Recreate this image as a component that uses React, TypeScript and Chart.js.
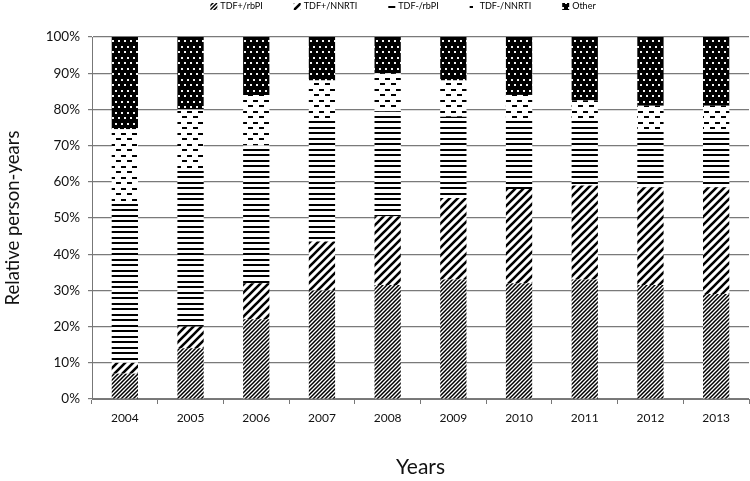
import { useEffect, useRef } from 'react';
import { Chart, registerables } from 'chart.js';

Chart.register(...registerables);

const years = ['2004', '2005', '2006', '2007', '2008', '2009', '2010', '2011', '2012', '2013'];
const seriesNames = ['TDF+/rbPI', 'TDF+/NNRTI', 'TDF-/rbPI', 'TDF-/NNRTI', 'Other'];
const tdfPlusRbpi = [7, 14, 22, 30, 31.5, 33, 32, 33, 31.5, 29];
const tdfPlusNnrti = [3, 6, 10, 13.5, 19, 22.5, 26, 26, 27, 29.5];
const tdfMinusRbpi = [44.5, 43.5, 38, 34, 29, 22.5, 19, 18, 16, 16];
const tdfMinusNnrti = [20, 16.5, 14, 10.5, 10.5, 10, 7, 5.5, 6.5, 6.5];
const otherValues = [25.5, 20, 16, 12, 10, 12, 16, 17.5, 19, 19];
const yMax = 100;
const yStep = 10;

const FONT = 'Lato, "Noto Sans", sans-serif';

function tile(w: number, h: number, draw: (c: CanvasRenderingContext2D) => void): CanvasPattern {
  const cv = document.createElement('canvas');
  cv.width = w;
  cv.height = h;
  const c = cv.getContext('2d')!;
  draw(c);
  return c.createPattern(cv, 'repeat')!;
}

function diag(size: number, lw: number) {
  return tile(size, size, (c) => {
    c.fillStyle = '#fff';
    c.fillRect(0, 0, size, size);
    c.strokeStyle = '#000';
    c.lineWidth = lw;
    c.beginPath();
    c.moveTo(-1, size + 1);
    c.lineTo(size + 1, -1);
    c.moveTo(-size / 2 - 1, size / 2 + 1);
    c.lineTo(size / 2 + 1, -size / 2 - 1);
    c.moveTo(size / 2 - 1, size * 1.5 + 1);
    c.lineTo(size * 1.5 + 1, size / 2 - 1);
    c.stroke();
  });
}

function makePatterns() {
  const dense = diag(4, 1.5);
  const wide = diag(8, 2.6);
  const horiz = tile(4, 11, (c) => {
    c.fillStyle = '#fff';
    c.fillRect(0, 0, 4, 11);
    c.fillStyle = '#000';
    c.fillRect(0, 0, 4, 2);
    c.fillRect(0, 6, 4, 2);
  });
  const dashes = tile(11, 11, (c) => {
    c.fillStyle = '#fff';
    c.fillRect(0, 0, 11, 11);
    c.fillStyle = '#000';
    c.fillRect(0, 1, 5, 2);
    c.fillRect(6, 6, 5, 2);
  });
  const dots = tile(6, 11, (c) => {
    c.fillStyle = '#000';
    c.fillRect(0, 0, 6, 11);
    c.fillStyle = '#f4f4f4';
    c.fillRect(1, 2, 2, 2);
    c.fillRect(4, 7, 2, 2);
  });
  return [dense, wide, horiz, dashes, dots];
}

const legendPlugin = {
  id: 'patternLegend',
  afterDraw(chart: any) {
    const ctx: CanvasRenderingContext2D = chart.ctx;
    ctx.save();
    ctx.font = `9px ${FONT}`;
    ctx.textBaseline = 'middle';
    const box = 7;
    const boxGap = 3;
    const itemGap = 31;
    const items = chart.data.datasets.map((ds: any) => ({
      label: ds.label as string,
      fill: ds.backgroundColor,
      w: box + boxGap + ctx.measureText(ds.label).width,
    }));
    const total = items.reduce((s: number, it: any) => s + it.w, 0) + itemGap * (items.length - 1);
    const centerX = 403;
    const cy = 6.5;
    let x = centerX - total / 2;
    for (const it of items) {
      ctx.fillStyle = it.fill;
      ctx.fillRect(x, cy - box / 2, box, box);
      ctx.fillStyle = '#000';
      ctx.fillText(it.label, x + box + boxGap, cy);
      x += it.w + itemGap;
    }
    ctx.restore();
  },
};

export default function App() {
  const ref = useRef<HTMLCanvasElement>(null);
  useEffect(() => {
    document.body.style.margin = '0';
    const canvas = ref.current!;
    const pats = makePatterns();
    const values = [tdfPlusRbpi, tdfPlusNnrti, tdfMinusRbpi, tdfMinusNnrti, otherValues];
    const chart = new Chart(canvas, {
      type: 'bar',
      data: {
        labels: years,
        datasets: seriesNames.map((name, i) => ({
          label: name,
          data: values[i],
          backgroundColor: pats[i] as any,
          borderWidth: 0,
          barPercentage: 0.4,
          categoryPercentage: 1,
        })),
      },
      options: {
        responsive: false,
        animation: false,
        layout: { padding: { top: 37, right: 1, left: 0, bottom: 0 } },
        plugins: { legend: { display: false }, tooltip: { enabled: false } },
        scales: {
          x: {
            stacked: true,
            afterFit: (s: any) => { s.height = 82; },
            grid: { display: true, drawOnChartArea: false, drawTicks: true, tickLength: 5, offset: true, color: '#777' },
            border: { display: true, color: '#777', width: 1 },
            ticks: { color: '#111', font: { family: FONT, size: 12 }, padding: 7, maxRotation: 0 },
            title: { display: true, text: 'Years', color: '#111', font: { family: FONT, size: 21 }, padding: { top: 0, bottom: 1 } },
          },
          y: {
            stacked: true,
            min: 0,
            max: yMax,
            afterFit: (s: any) => { s.width = 92; },
            grid: { color: '#7a7a7a', lineWidth: 1.2, tickLength: 4, drawTicks: true },
            border: { display: true, color: '#777', width: 1 },
            ticks: {
              stepSize: yStep,
              color: '#111',
              font: { family: FONT, size: 13.5 },
              padding: 8,
              callback: (v: any) => `${v}%`,
            },
            title: { display: true, text: 'Relative person-years', color: '#111', font: { family: FONT, size: 18.5 }, padding: { top: 2, bottom: 0 } },
          },
        },
      },
      plugins: [legendPlugin],
    });
    return () => chart.destroy();
  }, []);
  return (
    <div style={{ width: 750, height: 481 }}>
      <canvas ref={ref} width={750} height={481} style={{ display: 'block' }} />
    </div>
  );
}
